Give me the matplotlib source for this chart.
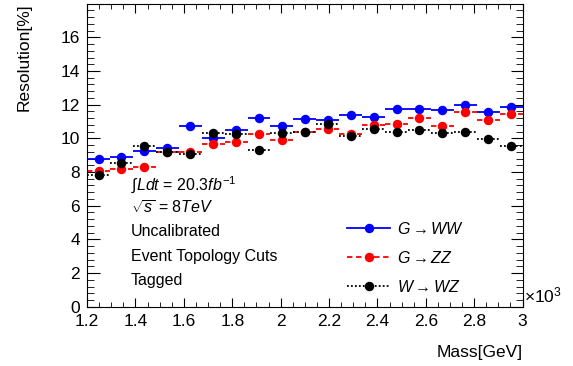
import numpy as np
import matplotlib
matplotlib.use("Agg")
from matplotlib import pyplot as plt
from matplotlib.ticker import MultipleLocator
from matplotlib.lines import Line2D

plt.rcParams['font.family'] = ['Liberation Sans', 'DejaVu Sans']
plt.rcParams['mathtext.fontset'] = 'custom'
plt.rcParams['mathtext.rm'] = 'Liberation Sans'
plt.rcParams['mathtext.it'] = 'Liberation Sans:italic'
plt.rcParams['mathtext.bf'] = 'Liberation Sans:bold'

# binning (GeV)
mass_lo = 1200
mass_hi = 3000
n_bins = 19

# resolution [%] per mass bin
res_gww = [8.75, 8.91, 9.24, 9.44, 10.73, 10.03, 10.47, 11.22, 10.73, 11.12,
           11.08, 11.38, 11.28, 11.77, 11.75, 11.69, 11.99, 11.57, 11.84]
res_gzz = [8.06, 8.16, 8.30, 9.20, 9.20, 9.64, 9.78, 10.23, 9.93, 10.37,
           10.57, 10.23, 10.77, 10.88, 11.20, 10.73, 11.57, 11.10, 11.45]
res_wwz = [7.82, 8.55, 9.54, 9.18, 9.05, 10.33, 10.23, 9.28, 10.33, 10.39,
           10.88, 10.13, 10.55, 10.35, 10.51, 10.33, 10.35, 9.96, 9.54]

labels = [r'$G \rightarrow WW$', r'$G \rightarrow ZZ$', r'$W \rightarrow WZ$']
colors = ['#0000ff', '#ff0000', 'black']
styles = ['-', (0, (3, 2)), (0, (1, 1.2))]

edges = np.linspace(mass_lo, mass_hi, n_bins + 1) / 1000.0
centers = 0.5 * (edges[:-1] + edges[1:])

fig = plt.figure(figsize=(5.73, 3.66), dpi=100)
ax = fig.add_axes([0.152, 0.162, 0.760, 0.828])

for y, c, ls in zip([res_gww, res_gzz, res_wwz], colors, styles):
    ax.hlines(y, edges[:-1], edges[1:], colors=c, linestyles=[ls], linewidth=1.3)
    ax.plot(centers, y, linestyle='none', marker='o', markersize=5.8, color=c)

# legend proxies with line + marker
proxies = [Line2D([], [], color=c, linestyle=ls, linewidth=1.3, marker='o',
                  markersize=5.8) for c, ls in zip(colors, styles)]
ax.legend(proxies, labels, loc='upper left', bbox_to_anchor=(0.583, 0.305),
          frameon=False, fontsize=11.5, handlelength=2.7, labelspacing=0.82,
          handletextpad=0.4, borderaxespad=0)

ax.set_xlim(1.2, 3.0)
ax.set_ylim(0, 18)
ax.xaxis.set_minor_locator(MultipleLocator(0.05))
ax.yaxis.set_minor_locator(MultipleLocator(0.4))
ax.set_yticks([0, 2, 4, 6, 8, 10, 12, 14, 16])
ax.set_xticks(np.arange(1.2, 3.01, 0.2))
ax.set_xticklabels(['1.2', '1.4', '1.6', '1.8', '2', '2.2', '2.4', '2.6', '2.8', '3'])
ax.tick_params(which='both', direction='in', top=True, right=True, labelsize=12.5)
ax.tick_params(axis='x', which='major', length=6.5, pad=5)
ax.tick_params(axis='x', which='minor', length=3.5)
ax.tick_params(axis='y', which='major', length=9, pad=5)
ax.tick_params(axis='y', which='minor', length=5)

ax.set_ylabel('Resolution[%]', loc='top', fontsize=12.5, labelpad=21)
ax.set_xlabel('Mass[GeV]', loc='right', fontsize=12.5, labelpad=12)
ax.text(1.003, 0.005, r'$\times$10$^{3}$', transform=ax.transAxes,
        fontsize=12.5, ha='left', va='bottom')

tx = 0.1
ax.text(tx, 0.385, r'$\int$$Ldt$ = 20.3$fb^{-1}$', transform=ax.transAxes, fontsize=11.5)
ax.text(tx, 0.305, r'$\sqrt{s}$ = 8$TeV$', transform=ax.transAxes, fontsize=11.5)
ax.text(tx, 0.232, 'Uncalibrated', transform=ax.transAxes, fontsize=11.5)
ax.text(tx, 0.152, 'Event Topology Cuts', transform=ax.transAxes, fontsize=11.5)
ax.text(tx, 0.073, 'Tagged', transform=ax.transAxes, fontsize=11.5)

fig.savefig('out.png', dpi=100)
